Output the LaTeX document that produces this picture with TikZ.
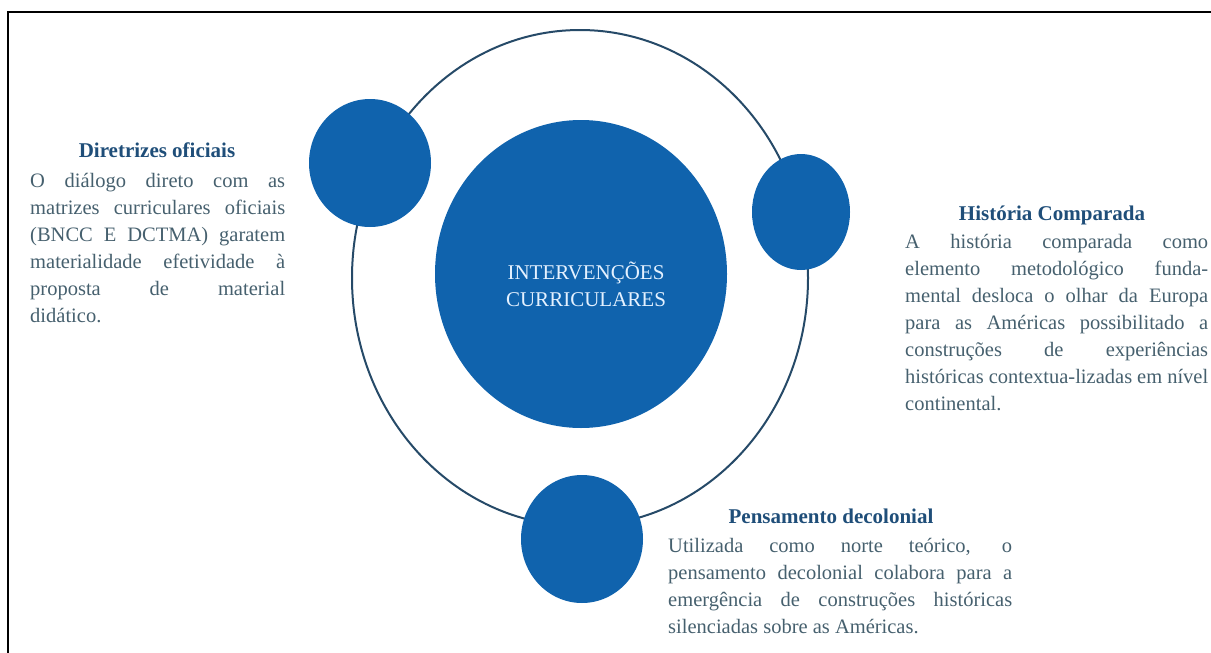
\documentclass[tikz,border=0pt]{standalone}
\usepackage{fontspec}
\setmainfont{Liberation Serif}
\usetikzlibrary{%
  shapes.geometric,% ellipse
  positioning%
}
\definecolor{dotblue}{RGB}{16,99,173}
\definecolor{ringblue}{RGB}{38,74,104}
\definecolor{titleblue}{RGB}{31,78,121}
\definecolor{bodygrey}{RGB}{70,96,110}
\definecolor{coretext}{RGB}{228,241,255}

\begin{document}
\begin{tikzpicture}[x=1pt,y=-1pt,
    Ring/.style={ellipse, draw=ringblue, line width=2pt, inner sep=0pt},
    Dot/.style={ellipse, fill=dotblue, inner sep=0pt},
    CoreText/.style={text=coretext, align=center, inner sep=0pt,
      font=\fontsize{21}{27}\selectfont},
    Title/.style={anchor=base, inner sep=0pt, text=titleblue,
      font=\fontsize{21}{25}\selectfont\bfseries},
    Body/.style={anchor=base west, inner sep=0pt, text=bodygrey, align=justify,
      font=\fontsize{20.5}{27}\selectfont,
      execute at begin node={\hyphenpenalty=10000\relax\hbadness=10000\relax}}]
  \useasboundingbox (0,0) rectangle (1211,653);
  % frame
  \draw[line width=2pt] (8,653) -- (8,12) -- (1211,12);
  % ring and circles
  \node[Ring, minimum width=456pt, minimum height=496pt] (ring) at (580,278) {};
  \node[Dot, minimum width=292pt, minimum height=308pt] (core) at (581,274) {};
  \node[CoreText] (corelabel) at (586,284) {INTERVENÇÕES\\CURRICULARES};
  \node[Dot, minimum width=122pt, minimum height=128pt] (diretrizes) at (370,163) {};
  \node[Dot, minimum width=98pt, minimum height=116pt] (historia) at (801,212) {};
  \node[Dot, minimum width=122pt, minimum height=128pt] (pensamento) at (582,539) {};
  % left block
  \node[Title] (dirtitle) at (157,157) {Diretrizes oficiais};
  \node[Body, text width=255pt] (dirtext) at (30,187) {O diálogo direto com as\linebreak
    matrizes curriculares oficiais\linebreak (BNCC E DCTMA) garatem\linebreak
    materialidade efetividade à\linebreak proposta de material\linebreak didático.};
  % right block
  \node[Title] (histitle) at (1052,220) {História Comparada};
  \node[Body, text width=303pt] (histext) at (905,248) {A história comparada como\linebreak
    elemento metodológico funda-\linebreak mental desloca o olhar da Europa\linebreak
    para as Américas possibilitado a\linebreak construções de experiências\linebreak
    históricas \mbox{contextua-lizadas} em nível\linebreak continental.};
  % bottom block
  \node[Title] (pentitle) at (831,523) {Pensamento decolonial};
  \node[Body, text width=344pt] (pentext) at (668,552) {Utilizada como norte teórico, o\linebreak
    pensamento decolonial colabora para a\linebreak emergência de construções históricas\linebreak
    silenciadas sobre as Américas.};
\end{tikzpicture}
\end{document}
